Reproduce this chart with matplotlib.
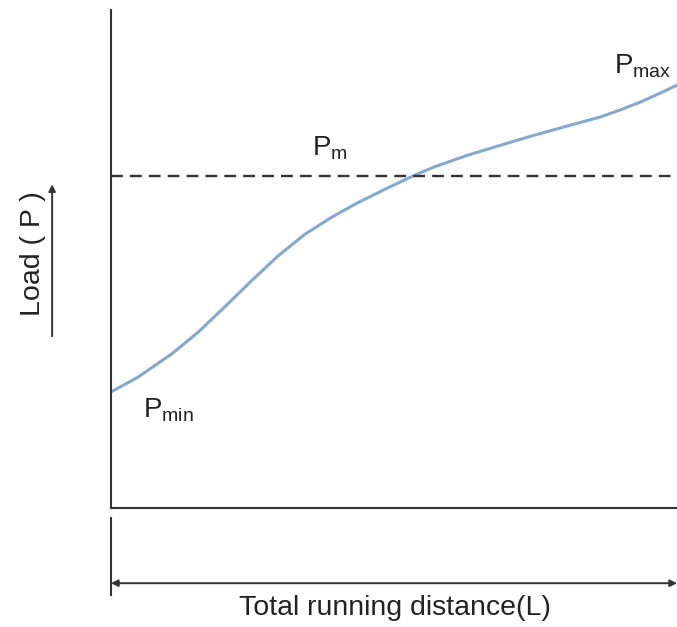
import numpy as np
import matplotlib
matplotlib.use("Agg")
import matplotlib.pyplot as plt

plt.rcParams['font.family'] = ['Liberation Sans', 'DejaVu Sans']
plt.rcParams['mathtext.default'] = 'regular'

# Belastungskurve (Weg in %, Last in % der Achsenhoehe)
distance = [0, 4.8, 10.8, 15.4, 20.1, 24.9, 29.5, 34.3, 39.0, 43.6, 48.4, 53.4, 56.9,
            62.9, 68.7, 74.6, 80.6, 86.4, 89.9, 93.5, 97.0, 100]
load = [23.3, 26.3, 31.0, 35.3, 40.4, 45.7, 50.6, 55.0, 58.4, 61.3, 64.0, 66.7, 68.4,
        70.8, 72.8, 74.8, 76.7, 78.5, 79.9, 81.5, 83.3, 84.9]
p_mean = 66.7

labels = {"min": (5.6, 19.7), "m": (35.5, 72.3), "max": (88.9, 88.8)}

fig = plt.figure(figsize=(6.77, 6.27), dpi=100)
ax = fig.add_axes([111/677, 1 - 508/627, 566/677, 498/627])

ax.plot(distance, load, color='#86a8cf', lw=2.2, solid_capstyle='round',
        solid_joinstyle='round')
ax.axhline(p_mean, color='#333333', lw=1.7, dashes=(5, 3))

for sub, (x, y) in labels.items():
    ax.text(x, y, 'P$_{%s}$' % sub, fontsize=20, va='center', ha='left', color='#222222')

ax.set_xlim(0, 100)
ax.set_ylim(0, 100)
ax.set_xticks([])
ax.set_yticks([])
for s in ['top', 'right']:
    ax.spines[s].set_visible(False)
for s in ['left', 'bottom']:
    ax.spines[s].set_color('#333333')
    ax.spines[s].set_linewidth(1.5)

# Masspfeil unten
ax.plot([0, 0], [-2, -17.5], color='#333333', lw=1.5, clip_on=False)
ax.annotate('', xy=(100, -15.1), xytext=(0, -15.1), xycoords='data',
            arrowprops=dict(arrowstyle='<|-|>', color='#333333', lw=1.4,
                            mutation_scale=10, shrinkA=0, shrinkB=0),
            annotation_clip=False)
ax.text(50.2, -20, 'Total running distance(L)', ha='center', va='center',
        fontsize=20.5, color='#222222', clip_on=False)

# Y-Achsenbeschriftung mit Pfeil
ax.text(-13.8, 51, 'Load ( P )', rotation=90, ha='center', va='center',
        fontsize=20.5, color='#222222', clip_on=False)
ax.annotate('', xy=(-10.4, 65), xytext=(-10.4, 34.5), xycoords='data',
            arrowprops=dict(arrowstyle='-|>', color='#333333', lw=1.4,
                            mutation_scale=10, shrinkA=0, shrinkB=0),
            annotation_clip=False)

fig.savefig('out.png', dpi=100)
